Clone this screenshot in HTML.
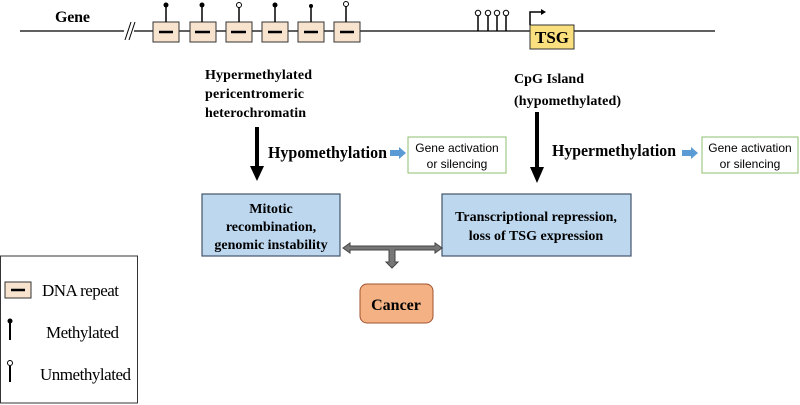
<!DOCTYPE html>
<html><head><meta charset="utf-8"><style>body{margin:0;background:#fff}svg{display:block}</style></head><body>
<svg width="800" height="405" xmlns="http://www.w3.org/2000/svg" font-family="Liberation Serif, serif">
<line x1="20" y1="31" x2="124" y2="31" stroke="#000" stroke-width="1.2"/>
<line x1="134" y1="31" x2="715" y2="31" stroke="#000" stroke-width="1.2"/>
<line x1="125" y1="40" x2="131" y2="22" stroke="#000"/><line x1="129" y1="40" x2="135" y2="22" stroke="#000"/>
<text x="55" y="22" font-size="16" font-weight="bold" textLength="35">Gene</text>
<g stroke="#333" fill="#f8e3cf">
<rect x="153" y="22" width="26" height="20"/><rect x="190" y="22" width="26" height="20"/><rect x="226" y="22" width="26" height="20"/><rect x="262" y="22" width="26" height="20"/><rect x="298" y="22" width="26" height="20"/><rect x="334" y="22" width="26" height="20"/>
</g>
<g stroke="#000" stroke-width="2.5">
<line x1="159" y1="32" x2="173" y2="32"/><line x1="195" y1="32" x2="210" y2="32"/><line x1="231" y1="32" x2="246" y2="32"/><line x1="268" y1="32" x2="282" y2="32"/><line x1="304" y1="32" x2="318" y2="32"/><line x1="340" y1="32" x2="354" y2="32"/>
</g>
<g stroke="#000" stroke-width="1.5">
<line x1="166" y1="22" x2="166" y2="6"/><line x1="202" y1="22" x2="202" y2="6"/><line x1="239" y1="22" x2="239" y2="6"/><line x1="275" y1="22" x2="275" y2="6"/><line x1="311" y1="22" x2="311" y2="6"/><line x1="346" y1="22" x2="346" y2="6"/>
<line x1="478" y1="31" x2="478" y2="16"/><line x1="488" y1="31" x2="488" y2="16"/><line x1="497" y1="31" x2="497" y2="16"/><line x1="506" y1="31" x2="506" y2="16"/>
</g>
<circle cx="166" cy="5" r="2.5"/><circle cx="202" cy="5" r="2.5"/><circle cx="275" cy="5" r="2.5"/><circle cx="311" cy="6" r="2"/>
<g fill="#fff" stroke="#000"><circle cx="239" cy="5" r="2.5"/><circle cx="346" cy="4" r="2.5"/>
<circle cx="478" cy="13" r="2.7"/><circle cx="488" cy="13" r="2.7"/><circle cx="497" cy="13" r="2.7"/><circle cx="506" cy="13" r="2.7"/></g>
<rect x="530" y="25" width="44" height="24" fill="#f9df7d" stroke="#333"/>
<text x="552" y="43" font-size="17" font-weight="bold" text-anchor="middle">TSG</text>
<polyline points="530,25 530,12 542,12" fill="none" stroke="#000" stroke-width="1.5"/><polygon points="541,9 546,12 541,15"/>
<g font-size="14" font-weight="bold"><text x="205" y="79" textLength="107">Hypermethylated</text><text x="205" y="98" textLength="99">pericentromeric</text><text x="205" y="117" textLength="101">heterochromatin</text>
<text x="514" y="83" textLength="70">CpG Island</text><text x="514" y="105" textLength="107">(hypomethylated)</text></g>
<rect x="255" y="127" width="4" height="40"/><polygon points="250,166 264,166 257,181"/>
<rect x="535" y="112" width="4" height="56"/><polygon points="530,167 544,167 537,183"/>
<text x="268" y="158" font-size="17" font-weight="bold" textLength="119" lengthAdjust="spacingAndGlyphs">Hypomethylation</text>
<text x="552" y="156" font-size="17" font-weight="bold" textLength="124" lengthAdjust="spacingAndGlyphs">Hypermethylation</text>
<polygon points="390,150 399,150 399,147 406,153 399,159 399,156 390,156" fill="#5b9bd5"/>
<polygon points="682,150 691,150 691,147 698,153 691,159 691,156 682,156" fill="#5b9bd5"/>
<g fill="#fff" stroke="#8fbf6f"><rect x="408" y="137" width="98" height="36"/><rect x="702" y="137" width="96" height="36"/></g>
<g font-family="Liberation Sans, sans-serif" font-size="12" text-anchor="middle"><text x="457" y="152">Gene activation</text><text x="457" y="168">or silencing</text>
<text x="750" y="152">Gene activation</text><text x="750" y="168">or silencing</text></g>
<g fill="#bdd7ee" stroke="#44546a" stroke-width="1.2"><rect x="202" y="194" width="138" height="62"/><rect x="442" y="194" width="189" height="62"/></g>
<g font-size="14" font-weight="bold" text-anchor="middle"><text x="271" y="213">Mitotic</text><text x="271" y="231">recombination,</text><text x="271" y="249">genomic instability</text>
<text x="536" y="221">Transcriptional repression,</text><text x="536" y="240">loss of TSG expression</text></g>
<polygon points="343,248 350,243 350,246 435,246 435,243 442,248 435,253 435,250 395,250 395,262 398,262 392,268 386,262 389,262 389,250 350,250 350,253" fill="#777" stroke="#444"/>
<rect x="360" y="284" width="73" height="39" rx="7" fill="#f4b183" stroke="#a0522d"/>
<text x="396" y="310" font-size="16" font-weight="bold" text-anchor="middle">Cancer</text>
<rect x="0.5" y="256" width="137" height="147" fill="#fff" stroke="#333"/>
<rect x="5" y="282" width="26" height="16" fill="#f8e3cf" stroke="#333"/><line x1="11" y1="290" x2="25" y2="290" stroke="#000" stroke-width="2.5"/>
<g font-size="17"><text x="42" y="296" textLength="77">DNA repeat</text><text x="46" y="338" textLength="73">Methylated</text><text x="40" y="380" textLength="91">Unmethylated</text></g>
<line x1="10" y1="322" x2="10" y2="340" stroke="#000" stroke-width="2"/><circle cx="10" cy="321" r="2.5"/>
<line x1="10" y1="366" x2="10" y2="382" stroke="#000" stroke-width="2"/><circle cx="10" cy="363" r="2.5" fill="#fff" stroke="#000"/>
</svg>
</body></html>
